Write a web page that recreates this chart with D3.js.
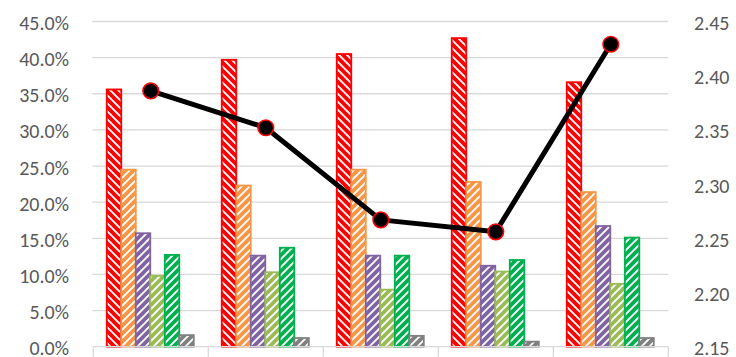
<!DOCTYPE html>
<html>
<head>
<meta charset="utf-8">
<script src="https://cdn.jsdelivr.net/npm/d3@7"></script>
<style>
  html, body { margin: 0; padding: 0; background: #fff; }
  svg { display: block; }
</style>
</head>
<body>
<svg id="chart" width="736" height="357"></svg>
<script>
// ---- data ----
const categories = ["1", "2", "3", "4", "5"];
const seriesNames = ["S1", "S2", "S3", "S4", "S5", "S6"];
const seriesColors = ["#FF0000", "#F79646", "#8064A2", "#9BBB59", "#00B050", "#808080"];
const seriesPatterns = ["down", "up", "up", "up", "up", "up"];
const s1 = [0.356, 0.397, 0.405, 0.427, 0.366];
const s2 = [0.245, 0.223, 0.245, 0.228, 0.214];
const s3 = [0.157, 0.126, 0.126, 0.112, 0.167];
const s4 = [0.098, 0.103, 0.079, 0.104, 0.087];
const s5 = [0.127, 0.137, 0.126, 0.120, 0.151];
const s6 = [0.016, 0.012, 0.015, 0.007, 0.012];
const lineValues = [2.386, 2.352, 2.267, 2.256, 2.429];
const leftTicks = [0, 0.05, 0.10, 0.15, 0.20, 0.25, 0.30, 0.35, 0.40, 0.45];
const rightTicks = [2.15, 2.20, 2.25, 2.30, 2.35, 2.40, 2.45];

const seriesValues = [s1, s2, s3, s4, s5, s6];

// ---- layout ----
const svg = d3.select("#chart");
const plotLeft = 93.3, plotRight = 668.3, plotTop = 21.5, plotBottom = 346.7;
const font = "Calibri, Carlito, Lato, sans-serif";
const textColor = "#595959";
const gridColor = "#D9D9D9";

const x0 = d3.scaleBand().domain(categories).range([plotLeft, plotRight]).paddingInner(0).paddingOuter(0);
const bw = x0.bandwidth();
const x1 = d3.scaleBand().domain(seriesNames).range([0.117 * bw, 0.874 * bw]).padding(0);
const yL = d3.scaleLinear().domain([0, 0.45]).range([plotBottom, plotTop]);
const yR = d3.scaleLinear().domain([2.15, 2.45]).range([plotBottom, plotTop]);

// ---- patterns ----
const defs = svg.append("defs");
seriesColors.forEach((c, i) => {
  const p = defs.append("pattern")
    .attr("id", "pat" + i)
    .attr("patternUnits", "userSpaceOnUse")
    .attr("width", 8).attr("height", 8);
  p.append("rect").attr("width", 8).attr("height", 8).attr("fill", "#fff");
  const d = seriesPatterns[i] === "down"
    ? "M0,0 L8,8 M-4,4 L4,12 M4,-4 L12,4"
    : "M0,8 L8,0 M-4,4 L4,-4 M4,12 L12,4";
  p.append("path").attr("d", d).attr("stroke", c).attr("stroke-width", 3.8)
    .attr("fill", "none");
});

// ---- gridlines ----
svg.append("g").selectAll("line")
  .data(leftTicks.filter(t => t > 0))
  .join("line")
  .attr("x1", plotLeft - 1).attr("x2", plotRight)
  .attr("y1", d => yL(d)).attr("y2", d => yL(d))
  .attr("stroke", gridColor).attr("stroke-width", 1.3);

// ---- bars ----
const gBars = svg.append("g");
seriesValues.forEach((vals, si) => {
  gBars.append("g").selectAll("rect")
    .data(vals)
    .join("rect")
    .attr("x", (d, i) => x0(categories[i]) + x1(seriesNames[si]))
    .attr("y", d => yL(d))
    .attr("width", x1.bandwidth())
    .attr("height", d => plotBottom - yL(d))
    .attr("fill", `url(#pat${si})`)
    .attr("stroke", seriesColors[si])
    .attr("stroke-width", 1.8);
});

// ---- x axis ----
const xAxis = d3.axisBottom(x0).tickSize(0).tickFormat("");
const gx = svg.append("g").attr("transform", `translate(0,${plotBottom})`).call(xAxis);
gx.select(".domain").remove();
gx.append("line").attr("x1", plotLeft).attr("x2", plotRight).attr("y1", 0).attr("y2", 0)
  .attr("stroke", gridColor).attr("stroke-width", 1.3);
const boundaries = categories.map(c => x0(c)).concat([plotRight]);
gx.selectAll(".bnd").data(boundaries).join("line")
  .attr("class", "bnd")
  .attr("x1", d => d).attr("x2", d => d).attr("y1", 0).attr("y2", 10)
  .attr("stroke", gridColor).attr("stroke-width", 1.3);

// ---- left axis ----
const yAxisL = d3.axisLeft(yL).tickValues(leftTicks).tickSize(0).tickPadding(0)
  .tickFormat(d => (d * 100).toFixed(1) + "%");
const gyl = svg.append("g").attr("transform", `translate(69,0)`).call(yAxisL);
gyl.select(".domain").remove();
gyl.selectAll("text").attr("font-family", font).attr("font-size", 20)
  .attr("fill", textColor).attr("dy", "0.4em").attr("x", 0);

// ---- right axis ----
const yAxisR = d3.axisRight(yR).tickValues(rightTicks).tickSize(0).tickPadding(0)
  .tickFormat(d3.format(".2f"));
const gyr = svg.append("g").attr("transform", `translate(694,0)`).call(yAxisR);
gyr.select(".domain").remove();
gyr.selectAll("text").attr("font-family", font).attr("font-size", 20)
  .attr("fill", textColor).attr("dy", "0.4em").attr("x", 0);

// ---- line ----
const cx = (d, i) => x0(categories[i]) + bw / 2;
svg.append("path")
  .datum(lineValues)
  .attr("d", d3.line().x(cx).y(d => yR(d)))
  .attr("fill", "none").attr("stroke", "#000").attr("stroke-width", 5)
  .attr("stroke-linejoin", "round");
svg.append("g").selectAll("circle")
  .data(lineValues)
  .join("circle")
  .attr("cx", cx).attr("cy", d => yR(d)).attr("r", 7.8)
  .attr("fill", "#000").attr("stroke", "#FF0000").attr("stroke-width", 1.6);
</script>
</body>
</html>
